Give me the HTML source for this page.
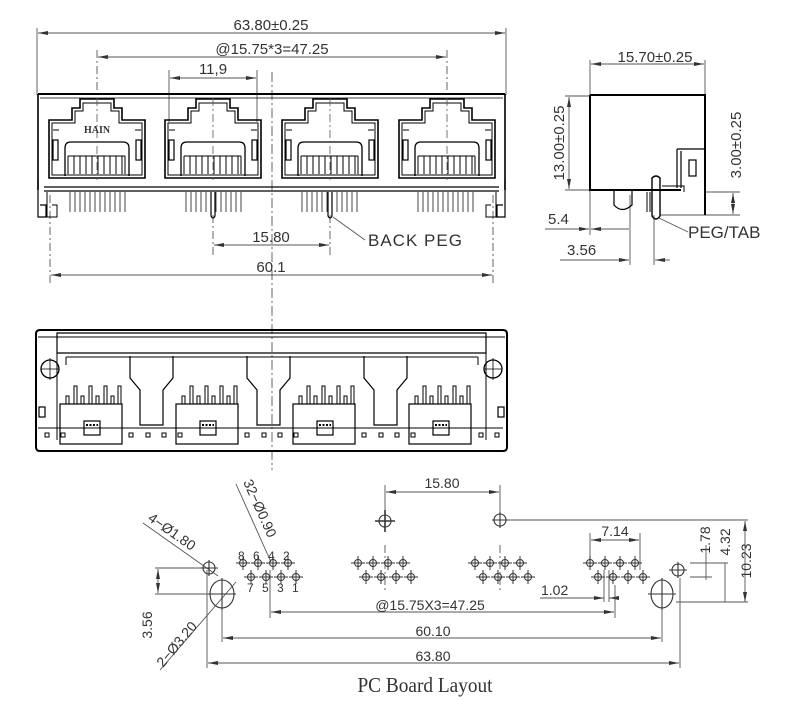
<!DOCTYPE html>
<html><head><meta charset="utf-8"><style>
html,body{margin:0;padding:0;background:#fff}
svg{display:block}
text{font-family:"Liberation Sans",sans-serif;fill:#333}
text.serif{font-family:"Liberation Serif",serif}
</style></head><body>
<svg width="800" height="709" viewBox="0 0 800 709" xmlns="http://www.w3.org/2000/svg">
<defs>
<marker id="a" markerWidth="10" markerHeight="6" refX="10" refY="3" orient="auto-start-reverse" markerUnits="userSpaceOnUse"><path d="M0,1 L10,3 L0,5 Z" fill="#333"/></marker>
<g id="port">
<path d="M-48,178 V120 H-25 V108 H-17 V99 H17 V108 H25 V120 H48 V178 Z" fill="none" stroke="#000" stroke-width="1.6"/>
<path d="M-45,175 V123 H-22 V111 H-14 V103 H14 V111 H22 V123 H45 V175 Z" fill="none" stroke="#000" stroke-width="1"/>
<path d="M-32,176 V148 Q-32,142 -26,142 H26 Q32,142 32,148 V176" fill="none" stroke="#000" stroke-width="1.3"/>
<rect x="-44" y="140" width="5" height="20" fill="none" stroke="#000" stroke-width="1.2"/>
<rect x="39" y="140" width="5" height="20" fill="none" stroke="#000" stroke-width="1.2"/>
<path d="M-29,174 V156 M-23,174 V156 M-17,174 V156 M-11,174 V156 M-5,174 V156 M1,174 V156 M7,174 V156 M13,174 V156 M19,174 V156 M25,174 V156 M28,174 V156 M-29,156 H28" stroke="#000" stroke-width="1"/>
<path d="M-44,130 H-38 M38,130 H44" stroke="#000"/>
<line x1="0" y1="98" x2="0" y2="180" stroke="#555" stroke-width="0.8" stroke-dasharray="8,3,2,3"/>
</g>
<g id="pins">
<path d="M0,192 V212 M5,192 V212 M10,192 V212 M15,192 V212 M20,192 V212 M25,192 V212 M30,192 V212 M35,192 V212 M40,192 V212 M45,192 V212 M50,192 V212 M55,192 V212" stroke="#444" stroke-width="1"/>
</g>
<g id="bport">
<rect x="-38" y="404" width="62" height="40" fill="none" stroke="#000" stroke-width="1.2"/>
<path d="M-32,404 V396 H-29 V404 M-24,404 V386 H-21 V404 M-17,404 V396 H-14 V404 M-9,404 V386 H-6 V404 M-2,404 V396 H1 V404 M6,404 V386 H9 V404 M13,404 V396 H16 V404 M20,404 V386 H23 V404" fill="none" stroke="#000" stroke-width="1"/>
<rect x="-14" y="421" width="16" height="14" fill="none" stroke="#000" stroke-width="1.2"/>
<path d="M-12,425 H0" stroke="#000" stroke-width="2" stroke-dasharray="2,1.5"/>
</g>
<g id="pp">
<circle r="3.5" fill="none" stroke="#333" stroke-width="1"/>
<path d="M-7,0 H7 M0,-7 V7" stroke="#333" stroke-width="1"/>
</g>
<g id="pg">
<use href="#pp" x="0" y="563"/><use href="#pp" x="15" y="563"/><use href="#pp" x="30" y="563"/><use href="#pp" x="45" y="563"/>
<use href="#pp" x="8" y="577"/><use href="#pp" x="23" y="577"/><use href="#pp" x="38" y="577"/><use href="#pp" x="53" y="577"/>
</g>
</defs>

<!-- TOP FRONT VIEW -->
<g stroke="#555" stroke-width="0.9" fill="none">
<line x1="37" y1="28" x2="37" y2="95"/><line x1="506" y1="28" x2="506" y2="95"/>
<line x1="38" y1="33" x2="505" y2="33" marker-start="url(#a)" marker-end="url(#a)"/>
<line x1="97" y1="50" x2="97" y2="95" stroke-dasharray="8,3,2,3"/><line x1="447" y1="50" x2="447" y2="95" stroke-dasharray="8,3,2,3"/>
<line x1="98" y1="57" x2="446" y2="57" marker-start="url(#a)" marker-end="url(#a)"/>
<line x1="169" y1="70" x2="169" y2="122"/><line x1="257" y1="70" x2="257" y2="122"/>
<line x1="170" y1="78" x2="256" y2="78" marker-start="url(#a)" marker-end="url(#a)"/>
<line x1="272" y1="72" x2="272" y2="470" stroke-dasharray="10,3,2,3"/>
<line x1="213" y1="215" x2="213" y2="255" stroke-dasharray="8,3,2,3"/><line x1="330" y1="215" x2="330" y2="255" stroke-dasharray="8,3,2,3"/>
<line x1="214" y1="245" x2="329" y2="245" marker-start="url(#a)" marker-end="url(#a)"/>
<line x1="50" y1="195" x2="50" y2="283" stroke-dasharray="8,3,2,3"/><line x1="493" y1="195" x2="493" y2="283" stroke-dasharray="8,3,2,3"/>
<line x1="51" y1="275" x2="492" y2="275" marker-start="url(#a)" marker-end="url(#a)"/>
<line x1="333" y1="217" x2="365" y2="240"/>
</g>
<text x="271" y="30" font-size="15" text-anchor="middle">63.80±0.25</text>
<text x="272" y="54" font-size="15" text-anchor="middle">@15.75*3=47.25</text>
<text x="213" y="74" font-size="15" text-anchor="middle">11,9</text>
<text x="271" y="242" font-size="15" text-anchor="middle">15.80</text>
<text x="271" y="272" font-size="15" text-anchor="middle">60.1</text>
<text x="368" y="246" font-size="17" fill="#111" letter-spacing="1">BACK  PEG</text>

<g fill="none" stroke="#000">
<path d="M38,94 H505" stroke-width="2"/>
<path d="M38,94 V190 M505,94 V190" stroke-width="1.6"/>
<path d="M40,98 H503" stroke-width="0.8"/>
<path d="M44,187 H499 M44,191 H499" stroke-width="1.2"/>
<path d="M38,180 V217 H46 V205 H40 M505,180 V217 H497 V205 H503" stroke-width="1.2"/>
<path d="M47,192 V217 H57 V205 H52 M496,192 V217 H486 V205 H491" stroke-width="1"/>
</g>
<use href="#port" x="97"/><use href="#port" x="213"/><use href="#port" x="330"/><use href="#port" x="447"/>
<text x="97" y="133" font-size="10" font-weight="bold" text-anchor="middle" class="serif" fill="#000">HAIN</text>
<use href="#pins" x="70"/><use href="#pins" x="186"/><use href="#pins" x="302"/><use href="#pins" x="418"/>
<g fill="none" stroke="#000" stroke-width="1.2">
<path d="M211,192 V216 Q213,220 215,216 V192"/><path d="M328,192 V216 Q330,220 332,216 V192"/>
</g>

<!-- SIDE VIEW -->
<g stroke="#555" stroke-width="0.9" fill="none">
<line x1="590" y1="60" x2="590" y2="95"/><line x1="705" y1="60" x2="705" y2="95"/>
<line x1="591" y1="64" x2="704" y2="64" marker-start="url(#a)" marker-end="url(#a)"/>
<line x1="565" y1="96" x2="590" y2="96"/><line x1="565" y1="190" x2="590" y2="190"/>
<line x1="569" y1="97" x2="569" y2="189" marker-start="url(#a)" marker-end="url(#a)"/>
<line x1="705" y1="192" x2="740" y2="192"/><line x1="660" y1="215" x2="740" y2="215"/>
<line x1="733" y1="193" x2="733" y2="214" marker-start="url(#a)" marker-end="url(#a)"/>
<line x1="590" y1="190" x2="590" y2="235"/><line x1="630" y1="195" x2="630" y2="265"/><line x1="654" y1="215" x2="654" y2="265"/>
<line x1="545" y1="229" x2="589" y2="229" marker-end="url(#a)"/><line x1="629" y1="229" x2="591" y2="229" marker-end="url(#a)"/>
<line x1="560" y1="260" x2="629" y2="260" marker-end="url(#a)"/><line x1="670" y1="260" x2="655" y2="260" marker-end="url(#a)"/>
<line x1="659" y1="218" x2="688" y2="232"/>
</g>
<text x="655" y="62" font-size="15" text-anchor="middle">15.70±0.25</text>
<text transform="translate(564,143) rotate(-90)" font-size="15" text-anchor="middle">13.00±0.25</text>
<text transform="translate(741,145) rotate(-90)" font-size="15" text-anchor="middle">3.00±0.25</text>
<text x="548" y="224" font-size="15">5.4</text>
<text x="567" y="255" font-size="15">3.56</text>
<text x="688" y="238" font-size="17" fill="#111">PEG/TAB</text>
<g fill="none" stroke="#000">
<path d="M590,95 H705 V215 M590,95 V190 H681" stroke-width="2"/>
<path d="M677,149 H705 M677,149 V188 M681,151 V188" stroke-width="1.2"/>
<rect x="689" y="160" width="7" height="16" stroke-width="1.2"/>
<path d="M614,190 V205 Q622,214 632,205 V190" stroke-width="1.2"/>
<path d="M652,178 V216 Q656,222 660,216 V178 Q656,174 652,178 Z" stroke-width="1.4"/>
<path d="M647,192 V212 M650,192 V212 M662,186 H684 V192" stroke-width="1"/>
</g>

<!-- BOTTOM VIEW -->
<g fill="none" stroke="#000">
<path d="M40,330 H503 Q507,330 507,334 V447 Q507,451 503,451 H40 Q36,451 36,447 V334 Q36,330 40,330 Z" stroke-width="2"/>
<path d="M57,333 H486 V353 H57 Z" stroke-width="1.2"/>
<path d="M38,337 H505 M66,357 H478" stroke-width="1"/>
<path d="M57,353 V440 M486,353 V440" stroke-width="1"/>
<path d="M130,356 V378 L140,390 V425 H163 V390 L173,378 V356" stroke-width="1.2"/>
<path d="M247,356 V378 L257,390 V425 H280 V390 L290,378 V356" stroke-width="1.2"/>
<path d="M364,356 V378 L374,390 V425 H397 V390 L407,378 V356" stroke-width="1.2"/>
<path d="M66,357 V365 M478,357 V365 M38,428 H503" stroke-width="1"/>
<circle cx="50" cy="369" r="9" stroke-width="1.3"/><circle cx="493" cy="369" r="9" stroke-width="1.3"/>
<path d="M50,358 V380 M41,369 H59 M493,358 V380 M484,369 H502" stroke-width="0.8"/>
<rect x="39" y="407" width="6" height="10" stroke-width="1.2"/><rect x="498" y="407" width="6" height="10" stroke-width="1.2"/>
</g>
<use href="#bport" x="98"/><use href="#bport" x="214"/><use href="#bport" x="331"/><use href="#bport" x="447"/>
<g fill="none" stroke="#000" stroke-width="1">
<rect x="45" y="433" width="4" height="4"/><rect x="61" y="433" width="4" height="4"/><rect x="129" y="433" width="4" height="4"/><rect x="146" y="433" width="4" height="4"/>
<rect x="162" y="433" width="4" height="4"/><rect x="178" y="433" width="4" height="4"/><rect x="245" y="433" width="4" height="4"/><rect x="262" y="433" width="4" height="4"/>
<rect x="278" y="433" width="4" height="4"/><rect x="294" y="433" width="4" height="4"/><rect x="362" y="433" width="4" height="4"/><rect x="379" y="433" width="4" height="4"/>
<rect x="395" y="433" width="4" height="4"/><rect x="411" y="433" width="4" height="4"/><rect x="479" y="433" width="4" height="4"/><rect x="495" y="433" width="4" height="4"/>
</g>

<!-- PCB LAYOUT -->
<g stroke="#555" stroke-width="0.9" fill="none">
<line x1="385" y1="485" x2="385" y2="512"/><line x1="500" y1="485" x2="500" y2="512"/>
<line x1="386" y1="492" x2="499" y2="492" marker-start="url(#a)" marker-end="url(#a)"/>
<line x1="508" y1="520" x2="748" y2="520"/>
<line x1="745" y1="521" x2="745" y2="602" marker-start="url(#a)" marker-end="url(#a)"/>
<line x1="725" y1="563" x2="725" y2="602"/><line x1="690" y1="563" x2="728" y2="563"/><line x1="676" y1="602" x2="748" y2="602"/>
<line x1="706" y1="545" x2="706" y2="580"/><line x1="690" y1="577" x2="712" y2="577"/>
<line x1="590" y1="533" x2="590" y2="560"/><line x1="640" y1="533" x2="640" y2="570"/>
<line x1="591" y1="540" x2="639" y2="540" marker-start="url(#a)" marker-end="url(#a)"/>
<line x1="540" y1="598" x2="604" y2="598" marker-end="url(#a)"/><line x1="615" y1="598" x2="609" y2="598" marker-end="url(#a)"/>
<line x1="604" y1="570" x2="604" y2="602"/><line x1="609" y1="570" x2="609" y2="602"/>
<line x1="270" y1="570" x2="270" y2="618"/><line x1="615" y1="585" x2="615" y2="618"/>
<line x1="271" y1="612" x2="614" y2="612" marker-start="url(#a)" marker-end="url(#a)"/>
<line x1="222" y1="600" x2="222" y2="642"/><line x1="662" y1="600" x2="662" y2="642"/>
<line x1="223" y1="638" x2="661" y2="638" marker-start="url(#a)" marker-end="url(#a)"/>
<line x1="207" y1="570" x2="207" y2="668"/><line x1="680" y1="578" x2="680" y2="668"/>
<line x1="208" y1="663" x2="679" y2="663" marker-start="url(#a)" marker-end="url(#a)"/>
<line x1="155" y1="568" x2="205" y2="568"/><line x1="155" y1="594" x2="210" y2="594"/>
<line x1="158" y1="569" x2="158" y2="593" marker-start="url(#a)" marker-end="url(#a)"/>
<line x1="143" y1="523" x2="218" y2="576"/>
<line x1="236" y1="484" x2="271" y2="562"/>
<line x1="160" y1="670" x2="236" y2="582"/>
<line x1="385" y1="545" x2="385" y2="590" stroke-dasharray="8,3,2,3"/><line x1="500" y1="545" x2="500" y2="590" stroke-dasharray="8,3,2,3"/>
</g>
<g stroke="#333" fill="none" stroke-width="1.1">
<circle cx="385" cy="521" r="6"/><path d="M375,521 H395 M385,510 V532" stroke-width="1.6"/>
<circle cx="500" cy="520" r="6"/><path d="M492,520 H508 M500,512 V528"/>
<circle cx="209" cy="568" r="6"/><path d="M200,568 H218 M209,560 V576"/>
<circle cx="678" cy="570" r="6"/><path d="M669,570 H687 M678,562 V578"/>
<ellipse cx="222" cy="594" rx="12" ry="14"/><path d="M208,594 H236 M222,578 V610"/>
<ellipse cx="662" cy="594" rx="11" ry="14"/><path d="M648,594 H676 M662,578 V610"/>
</g>
<use href="#pg" x="243"/><use href="#pg" x="358"/><use href="#pg" x="475"/><use href="#pg" x="590"/>
<g font-size="14">
<text x="442" y="488" text-anchor="middle">15.80</text>
<text x="615" y="536" text-anchor="middle">7.14</text>
<text transform="translate(710,540) rotate(-90)" text-anchor="middle">1.78</text>
<text transform="translate(730,542) rotate(-90)" text-anchor="middle">4.32</text>
<text transform="translate(751,561) rotate(-90)" text-anchor="middle">10.23</text>
<text x="541" y="595">1.02</text>
<text x="430" y="610" text-anchor="middle">@15.75X3=47.25</text>
<text x="433" y="636" text-anchor="middle">60.10</text>
<text x="433" y="661" text-anchor="middle">63.80</text>
<text transform="translate(152,625) rotate(-90)" text-anchor="middle">3.56</text>
<text transform="translate(147,520) rotate(35)">4−Ø1.80</text>
<text transform="translate(243,482) rotate(66)">32−Ø0.90</text>
<text transform="translate(163,668) rotate(-50)">2−Ø3.20</text>
<text x="238" y="560" font-size="12">8</text><text x="253" y="560" font-size="12">6</text><text x="268" y="560" font-size="12">4</text><text x="283" y="560" font-size="12">2</text>
<text x="247" y="592" font-size="12">7</text><text x="262" y="592" font-size="12">5</text><text x="277" y="592" font-size="12">3</text><text x="292" y="592" font-size="12">1</text>
</g>
<text x="425" y="692" font-size="21" text-anchor="middle" class="serif" fill="#111" transform="translate(425,0) scale(0.92,1) translate(-425,0)">PC Board Layout</text>
</svg>
</body></html>
